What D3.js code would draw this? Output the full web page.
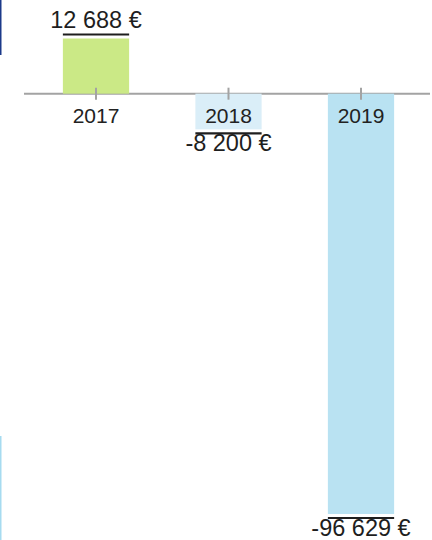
<!DOCTYPE html>
<html>
<head>
<meta charset="utf-8">
<script src="https://cdn.jsdelivr.net/npm/d3@7"></script>
<style>
  body { margin: 0; background: #fff; }
  svg { display: block; font-family: "Liberation Sans", Arial, sans-serif; }
</style>
</head>
<body>
<div id="chart"></div>
<script>
const years = ['2017', '2018', '2019'];
const values = [12688, -8200, -96629];
const colors = ['#cbe986', '#daeef8', '#b9e2f2'];
const valueLabels = ['12 688 €', '-8 200 €', '-96 629 €'];

const width = 432, height = 540;

const svg = d3.select('#chart')
    .append('svg')
    .attr('width', width)
    .attr('height', height);

// little marks on the left edge
svg.append('rect').attr('x', 0).attr('y', 0).attr('width', 1.5).attr('height', 55).attr('fill', '#1c3a8a');
svg.append('rect').attr('x', 0).attr('y', 436).attr('width', 1.5).attr('height', 104).attr('fill', '#a6dbf0');

const x = d3.scaleBand()
    .domain(years)
    .range([29.75, 427.25])
    .paddingInner(0.5)
    .paddingOuter(0.25);

const y = d3.scaleLinear()
    .domain([d3.min(values), d3.max(values)])
    .range([514, 38.5]);

const data = years.map((yr, i) => ({ year: yr, value: values[i], color: colors[i], label: valueLabels[i] }));

// zero line
svg.append('line')
    .attr('x1', 24).attr('x2', 430)
    .attr('y1', y(0)).attr('y2', y(0))
    .attr('stroke', '#a3a3a3')
    .attr('stroke-width', 2);

// ticks + year labels
const axis = svg.append('g')
    .attr('transform', `translate(0, ${y(0) - 6})`)
    .call(d3.axisBottom(x).tickSize(12).tickSizeOuter(0));
axis.select('.domain').remove();
axis.selectAll('.tick line').attr('stroke', '#a3a3a3').attr('stroke-width', 2);
axis.selectAll('.tick text')
    .attr('y', 35).attr('dy', 0)
    .attr('fill', '#222')
    .style('font-size', '21px')
    .style('font-family', '"Liberation Sans", Arial, sans-serif');

const bars = svg.append('g');
bars.selectAll('rect')
    .data(data)
    .enter()
    .append('rect')
    .attr('x', d => x(d.year))
    .attr('width', x.bandwidth())
    .attr('y', d => Math.min(y(d.value), y(0)))
    .attr('height', d => Math.abs(y(d.value) - y(0)))
    .attr('fill', d => d.color);

// bring year labels over the bars
axis.raise();

const ends = svg.append('g');
ends.selectAll('line')
    .data(data)
    .enter()
    .append('line')
    .attr('x1', d => x(d.year))
    .attr('x2', d => x(d.year) + x.bandwidth())
    .attr('y1', d => y(d.value) + (d.value < 0 ? 4 : -4))
    .attr('y2', d => y(d.value) + (d.value < 0 ? 4 : -4))
    .attr('stroke', '#1e1e1e')
    .attr('stroke-width', 2.2);

ends.selectAll('text')
    .data(data)
    .enter()
    .append('text')
    .attr('x', d => x(d.year) + x.bandwidth() / 2)
    .attr('y', d => y(d.value) + (d.value < 0 ? 22 : -11))
    .attr('text-anchor', 'middle')
    .attr('fill', '#1e1e1e')
    .style('font-size', '23.5px')
    .text(d => d.label);
</script>
</body>
</html>
